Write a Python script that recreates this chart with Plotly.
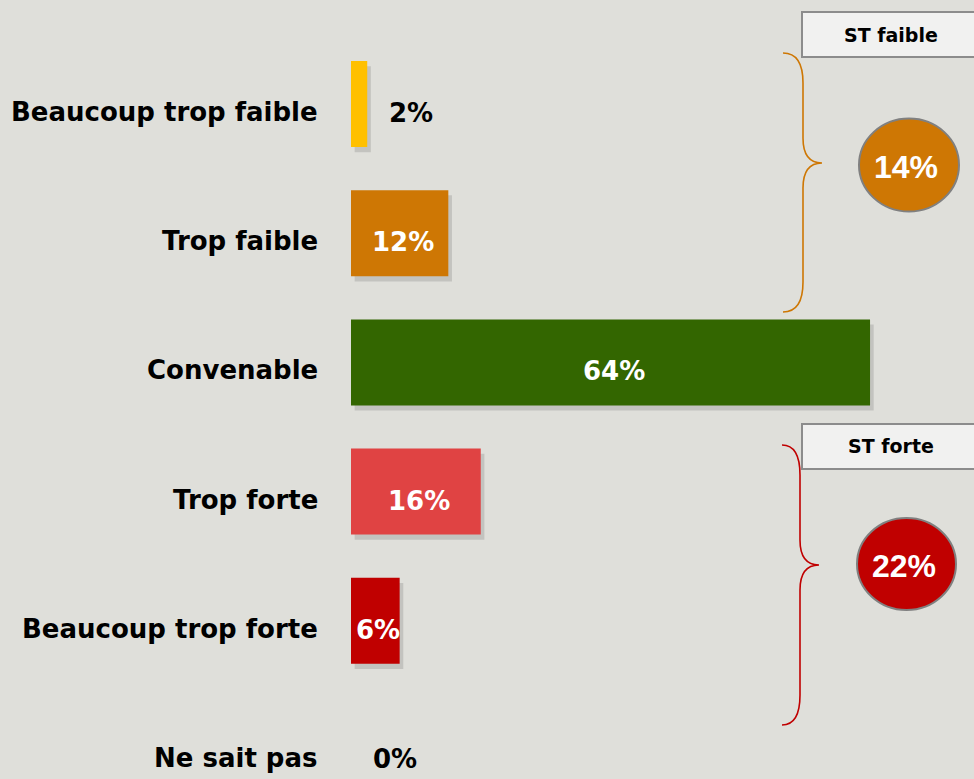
import plotly.graph_objects as go

# data
categories = [
    "Beaucoup trop faible",
    "Trop faible",
    "Convenable",
    "Trop forte",
    "Beaucoup trop forte",
    "Ne sait pas",
]
values = [2, 12, 64, 16, 6, 0]
bar_colours = ["#FFC000", "#CE7704", "#336600", "#E04343", "#C00000", "#C00000"]

group_labels = ["ST faible", "ST forte"]
group_values = [14, 22]
group_colours = ["#CE7704", "#C00000"]

bg = "#DFDFDA"
W, H = 974, 779
L = 351  # left margin, where x = 0 sits

# px -> paper helpers for the decorations on the right
def px(x):
    return (x - L) / (W - L)

def py(y):
    return 1 - y / H

fig = go.Figure()

# soft drop shadow behind each bar
fig.add_trace(go.Bar(
    y=categories, x=values, base=0.45, orientation="h",
    width=0.666, offset=-0.333 + 0.04,
    marker=dict(color="rgba(0,0,0,0.12)", line_width=0),
    hoverinfo="skip",
))
fig.add_trace(go.Bar(
    y=categories, x=values, orientation="h", width=0.666,
    marker=dict(color=bar_colours, line_width=0),
))

bold = dict(family="DejaVu Sans", size=26, weight="bold")

# category labels and value labels
for cat, v in zip(categories, values):
    fig.add_annotation(
        x=0, xref="paper", y=cat, yref="y", text=cat, showarrow=False,
        xanchor="right", xshift=-31, yshift=-8,
        font=dict(bold, color="black"),
    )
    if v >= 5:
        fig.add_annotation(
            x=v / 2, y=cat, text=f"{v}%", showarrow=False,
            xanchor="center", yshift=-9, xshift=3,
            font=dict(bold, color="white"),
        )
    else:
        fig.add_annotation(
            x=v, y=cat, text=f"{v}%", showarrow=False,
            xanchor="left", xshift=20, yshift=-9,
            font=dict(bold, color="black"),
        )

# braces, group boxes and circles
braces = [(53, 163, 312, 783, 803, 822), (445, 565, 725, 782, 800, 819)]
boxes = [(12, 57), (424, 469)]
circles = [(909, 165, 50, 46.5), (906.5, 564, 49.5, 46)]

for (top, mid, bot, x0, xv, xt), (b0, b1), (cx, cy, rx, ry), lab, gv, col in zip(
        braces, boxes, circles, group_labels, group_values, group_colours):
    path = (
        f"M {px(x0)},{py(top)} "
        f"Q {px(xv)},{py(top)} {px(xv)},{py(top + 30)} "
        f"L {px(xv)},{py(mid - 25)} "
        f"Q {px(xv)},{py(mid)} {px(xt)},{py(mid)} "
        f"Q {px(xv)},{py(mid)} {px(xv)},{py(mid + 25)} "
        f"L {px(xv)},{py(bot - 30)} "
        f"Q {px(xv)},{py(bot)} {px(x0)},{py(bot)}"
    )
    fig.add_shape(type="path", path=path, xref="paper", yref="paper",
                  line=dict(color=col, width=1.6))
    fig.add_shape(type="rect", xref="paper", yref="paper",
                  x0=px(802), x1=px(990), y0=py(b0), y1=py(b1),
                  fillcolor="#F1F1F0", line=dict(color="#8C8C8C", width=2))
    fig.add_annotation(x=px(891), y=py((b0 + b1) / 2), xref="paper", yref="paper",
                       xanchor="center", yanchor="middle",
                       text=lab, showarrow=False,
                       font=dict(family="DejaVu Sans", size=19, weight="bold", color="black"))
    fig.add_shape(type="circle", xref="paper", yref="paper",
                  x0=px(cx - rx), x1=px(cx + rx), y0=py(cy - ry), y1=py(cy + ry),
                  fillcolor=col, line=dict(color="#808080", width=2))
    fig.add_annotation(x=px(cx - 3), y=py(cy + 2), xref="paper", yref="paper",
                       xanchor="center", yanchor="middle",
                       text=f"{gv}%", showarrow=False,
                       font=dict(family="Liberation Sans", size=32, weight="bold", color="white"))

fig.update_layout(
    width=W, height=H,
    margin=dict(l=L, r=0, t=0, b=0),
    paper_bgcolor=bg, plot_bgcolor=bg,
    showlegend=False, barmode="overlay",
    xaxis=dict(range=[0, (W - L) / 8.11], visible=False),
    yaxis=dict(range=[5.2245, -0.805], showticklabels=False, showgrid=False,
               zeroline=False, categoryorder="array", categoryarray=categories),
)

fig.write_html("out.html", config={"displayModeBar": False},
               post_script="document.body.style.margin='0px';")
